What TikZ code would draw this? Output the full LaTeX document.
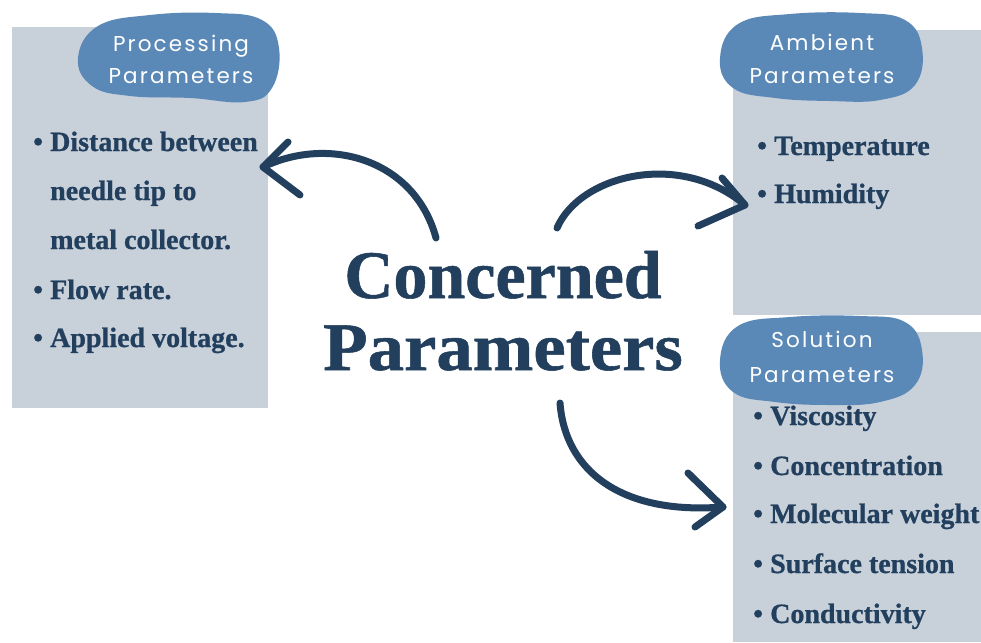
\documentclass[tikz,border=0pt]{standalone}
\usepackage{fontspec}
\setmainfont{Liberation Serif}[BoldFeatures={FakeBold=0.8}]
\newfontfamily\headfont{Poppins}[LetterSpace=10]
\definecolor{navy}{HTML}{22405E}
\definecolor{panelgrey}{HTML}{C8D0DA}
\definecolor{blobblue}{HTML}{5A89B7}
\tikzset{
  panel/.style={fill=panelgrey},
  blob/.style={fill=blobblue},
  head/.style={text=white, font=\headfont\fontsize{21.5}{21.5}\selectfont, anchor=base, inner sep=0pt},
  item/.style={text=navy, font=\bfseries\fontsize{28}{28}\selectfont, anchor=base west, inner sep=0pt},
  titletext/.style={text=navy, font=\bfseries\fontsize{68}{68}\selectfont, anchor=base, inner sep=0pt},
  curvearrow/.style={draw=navy, line width=7pt, line cap=round, line join=round},
}
\newcommand{\bul}{\makebox[17pt][l]{\textbullet}}
\begin{document}
\begin{tikzpicture}[x=1pt,y=-1pt]
\useasboundingbox (0,0) rectangle (981,642);
\fill[white] (0,0) rectangle (981,642);
% panels
\fill[panel] (12,27) rectangle (268,408);
\fill[panel] (733,30) rectangle (981,315);
\fill[panel] (733,332) rectangle (981,642);
% blobs
\fill[blob] plot[smooth cycle, tension=0.7] coordinates {(78,58) (98,26) (150,15) (215,13) (262,20) (279,48) (272,88) (245,102) (190,98) (130,96) (92,86)};
\fill[blob] plot[smooth cycle, tension=0.7] coordinates {(720,58) (738,24) (790,14) (860,13) (905,20) (922,48) (915,85) (880,100) (830,101) (775,98) (733,88)};
\fill[blob] plot[smooth cycle, tension=0.7] coordinates {(720,360) (738,326) (790,317) (860,316) (905,322) (922,350) (915,385) (880,402) (830,405) (775,402) (733,392)};
% headers
\node[head] (ph1) at (181,52) {Processing};
\node[head] (ph2) at (181,83) {Parameters};
\node[head] (ah1) at (822,50) {Ambient};
\node[head] (ah2) at (822,83) {Parameters};
\node[head] (sh1) at (822,347) {Solution};
\node[head] (sh2) at (822,382) {Parameters};
% processing items
\node[item] (p1) at (33,151) {\bul Distance between};
\node[item] (p2) at (50,200) {needle tip to};
\node[item] (p3) at (50,249) {metal collector.};
\node[item] (p4) at (33,299) {\bul Flow rate.};
\node[item] (p5) at (33,347) {\bul Applied voltage.};
% ambient items
\node[item] (a1) at (757,155) {\bul Temperature};
\node[item] (a2) at (757,203) {\bul Humidity};
% solution items
\node[item] (s1) at (753,425) {\bul Viscosity};
\node[item] (s2) at (753,475) {\bul Concentration};
\node[item] (s3) at (753,523) {\bul Molecular weight};
\node[item] (s4) at (753,573) {\bul Surface tension};
\node[item] (s5) at (753,623) {\bul Conductivity};
% title
\node[titletext] (t1) at (503,298) {Concerned};
\node[titletext] (t2) at (503,370) {\scalebox{1.07}[1]{Parameters}};
% arrows
\coordinate (a1s) at (436,238);
\coordinate (a1t) at (263,167);
\coordinate (a1u) at (288,142);
\coordinate (a1d) at (300,195);
\coordinate (a2s) at (557,228);
\coordinate (a2t) at (745,205);
\coordinate (a2u) at (722,178);
\coordinate (a2d) at (698,226);
\coordinate (a3s) at (560,403);
\coordinate (a3t) at (723,507);
\coordinate (a3u) at (688,473);
\coordinate (a3d) at (695,527);
\draw[curvearrow] (a1s) .. controls (415,160) and (330,135) .. (a1t);
\draw[curvearrow] (a1u) -- (a1t) -- (a1d);
\draw[curvearrow] (a2s) .. controls (580,175) and (680,150) .. (a2t);
\draw[curvearrow] (a2u) -- (a2t) -- (a2d);
\draw[curvearrow] (a3s) .. controls (565,470) and (620,515) .. (a3t);
\draw[curvearrow] (a3u) -- (a3t) -- (a3d);
\end{tikzpicture}
\end{document}
